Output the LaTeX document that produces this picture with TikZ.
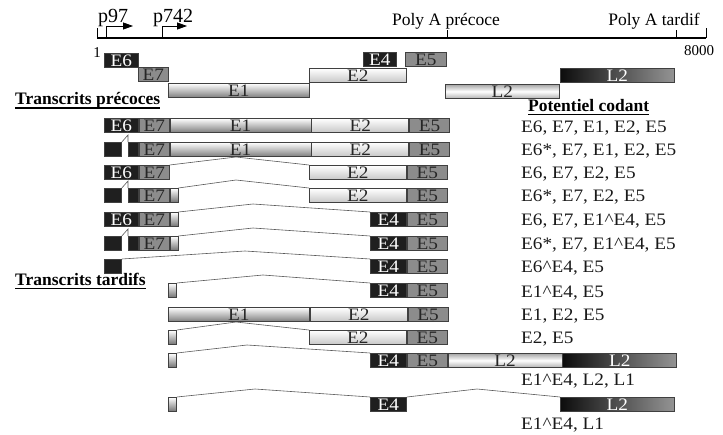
\documentclass[tikz,border=0pt]{standalone}
\usepackage{graphicx}
\usepackage{fontspec}
\setmainfont{Liberation Serif}
\usetikzlibrary{arrows.meta}
% slightly widened setting used for the exon names and the coding lists
\newcommand\widetxt[1]{\scalebox{1.1}[1]{#1}}
\begin{document}
\begin{tikzpicture}[x=1pt,y=-1pt,
  exon/.style={draw=black!75, line width=0.8pt, inner sep=0pt, minimum height=14pt,
    anchor=north west, font=\fontsize{17.5}{17.5}\selectfont},
  w/.style={minimum width=#1pt},
  dark/.style={fill=black!88, text=white},
  mid/.style={fill=black!45, text=black!85},
  pale/.style={top color=white, bottom color=black!50, text=black!85},
  light/.style={top color=white, bottom color=black!22, text=black!85},
  stub/.style={top color=white, bottom color=black!55, w=8},
  lpale/.style={top color=black!35, bottom color=black!30, middle color=white, text=black!85},
  ldark/.style={left color=black!95, right color=black!42, text=white},
  splice/.style={draw=black!65, line width=0.6pt},
  lbl/.style={anchor=base west, inner sep=0pt, font=\fontsize{17.5}{17.5}\selectfont, text=black!90},
  head/.style={anchor=base west, inner sep=0pt, font=\fontsize{17.5}{17.5}\selectfont\bfseries},
  toplbl/.style={inner sep=0pt, font=\fontsize{17.5}{17.5}\selectfont},
  promlbl/.style={inner sep=0pt, anchor=base west, font=\fontsize{20}{20}\selectfont},
  uline/.style={line width=1.6pt},
  prom/.style={line width=0.8pt, -{Triangle[length=10pt,width=7pt]}},
]
\useasboundingbox (0,0) rectangle (723,434);

% genome axis with ticks
\coordinate (g0) at (97,38);
\coordinate (g1) at (706,38);
\coordinate (pe) at (447,38);
\coordinate (pt) at (676,38);
\draw[line width=2.6pt] (g0) -- (g1);
\draw[line width=0.8pt] (g0) -- ++(0,-10);
\draw[line width=0.8pt] (g1) -- ++(0,-10);
\draw[line width=0.8pt] (pe) -- ++(0,-8);
\draw[line width=0.8pt] (pt) -- ++(0,-8);
\node[toplbl, anchor=base, font=\fontsize{15}{15}\selectfont] (n1) at (97,57) {1};
\node[toplbl, anchor=base, font=\fontsize{15}{15}\selectfont] (n8000) at (699,55) {8000};
\node[toplbl, anchor=base] (lpe) at (446,25) {Poly A précoce};
\node[toplbl, anchor=base] (lpt) at (654,25) {Poly A tardif};

% promoters
\coordinate (p97) at (106,38);
\coordinate (p742) at (162,38);
\draw[prom] (p97) -- ++(0,-12) -- ++(27,0);
\draw[prom] (p742) -- ++(0,-12) -- ++(25,0);
\node[promlbl] (lp97) at (98,22) {p97};
\node[promlbl] (lp742) at (153,22) {p742};

% open reading frames on the genome
\node[exon,dark,w=34] (t6) at (104,53) {\widetxt{E6}};
\node[exon,mid,w=30] (t7) at (138,67) {\widetxt{E7}};
\node[exon,pale,w=141] (t1) at (168,83) {\widetxt{E1}};
\node[exon,light,w=97] (t2) at (309,68) {\widetxt{E2}};
\node[exon,dark,w=33] (t4) at (363,52) {\widetxt{E4}};
\node[exon,mid,w=41] (t5) at (405,52) {\widetxt{E5}};
\node[exon,lpale,w=114] (tl2a) at (445,84) {\widetxt{L2}};
\node[exon,ldark,w=114] (tl2b) at (560,68) {\widetxt{L2}};

% headings
\node[head] (hpre) at (15,104) {Transcrits précoces};
\draw[uline] ([yshift=-4pt]hpre.base west) -- ([yshift=-4pt]hpre.base east);
\node[head] (htar) at (15,285) {Transcrits tardifs};
\draw[uline] ([yshift=-3.5pt]htar.base west) -- ([yshift=-3.5pt]htar.base east);
\node[head] (hpot) at (528,111) {Potentiel codant};
\draw[uline] ([yshift=-3.5pt]hpot.base west) -- ([yshift=-3.5pt]hpot.base east);

% transcript 1
\node[exon,dark,w=34] (a6) at (104,118) {\widetxt{E6}};
\node[exon,mid,w=30] (a7) at (a6.north east) {\widetxt{E7}};
\node[exon,pale,w=141] (a1) at (a7.north east) {\widetxt{E1}};
\node[exon,light,w=97] (a2) at (a1.north east) {\widetxt{E2}};
\node[exon,mid,w=40] (a5) at (a2.north east) {\widetxt{E5}};
\node[lbl] (la) at (521,132) {\widetxt{E6, E7, E1, E2, E5}};

% transcript 2
\node[exon,dark,w=17] (b6a) at (104,142) {};
\node[exon,dark,w=10] (b6b) at (128,142) {};
\node[exon,mid,w=30] (b7) at (b6b.north east) {\widetxt{E7}};
\node[exon,pale,w=141] (b1) at (b7.north east) {\widetxt{E1}};
\node[exon,light,w=97] (b2) at (b1.north east) {\widetxt{E2}};
\node[exon,mid,w=40] (b5) at (b2.north east) {\widetxt{E5}};
\draw[splice] (b6a.north east) -- ([yshift=7pt]b6b.north west) -- (b6b.north west);
\node[lbl] (lb) at (521,155) {\widetxt{E6*, E7, E1, E2, E5}};

% transcript 3
\node[exon,dark,w=34] (c6) at (104,165) {\widetxt{E6}};
\node[exon,mid,w=30] (c7) at (c6.north east) {\widetxt{E7}};
\node[exon,light,w=97] (c2) at (309,165) {\widetxt{E2}};
\node[exon,mid,w=40] (c5) at (c2.north east) {\widetxt{E5}};
\draw[splice] (c7.north east) -- (236,157) -- (c2.north west);
\node[lbl] (lc) at (521,178) {\widetxt{E6, E7, E2, E5}};

% transcript 4
\node[exon,dark,w=17] (d6a) at (104,188) {};
\node[exon,dark,w=10] (d6b) at (128,188) {};
\node[exon,mid,w=30] (d7) at (d6b.north east) {\widetxt{E7}};
\node[exon,stub] (d1) at (d7.north east) {};
\node[exon,light,w=97] (d2) at (309,188) {\widetxt{E2}};
\node[exon,mid,w=40] (d5) at (d2.north east) {\widetxt{E5}};
\draw[splice] (d6a.north east) -- ([yshift=7pt]d6b.north west) -- (d6b.north west);
\draw[splice] (d1.north east) -- (236,180) -- (d2.north west);
\node[lbl] (ld) at (521,201) {\widetxt{E6*, E7, E2, E5}};

% transcript 5
\node[exon,dark,w=34] (e6) at (104,212) {\widetxt{E6}};
\node[exon,mid,w=30] (e7) at (e6.north east) {\widetxt{E7}};
\node[exon,stub] (e1) at (e7.north east) {};
\node[exon,dark,w=36] (e4) at (370,212) {\widetxt{E4}};
\node[exon,mid,w=40] (e5) at (e4.north east) {\widetxt{E5}};
\draw[splice] (e1.north east) -- (253,204) -- (e4.north west);
\node[lbl] (le) at (521,225) {\widetxt{E6, E7, E1\textasciicircum E4, E5}};

% transcript 6
\node[exon,dark,w=17] (f6a) at (104,236) {};
\node[exon,dark,w=10] (f6b) at (128,236) {};
\node[exon,mid,w=30] (f7) at (f6b.north east) {\widetxt{E7}};
\node[exon,stub] (f1) at (f7.north east) {};
\node[exon,dark,w=36] (f4) at (370,236) {\widetxt{E4}};
\node[exon,mid,w=40] (f5) at (f4.north east) {\widetxt{E5}};
\draw[splice] (f6a.north east) -- ([yshift=7pt]f6b.north west) -- (f6b.north west);
\draw[splice] (f1.north east) -- (253,228) -- (f4.north west);
\node[lbl] (lf) at (521,249) {\widetxt{E6*, E7, E1\textasciicircum E4, E5}};

% transcript 7
\node[exon,dark,w=17] (g6) at (104,259) {};
\node[exon,dark,w=36] (g4) at (370,259) {\widetxt{E4}};
\node[exon,mid,w=40] (g5) at (g4.north east) {\widetxt{E5}};
\draw[splice] (g6.north east) -- (245,251) -- (g4.north west);
\node[lbl] (lg) at (521,272) {\widetxt{E6\textasciicircum E4, E5}};

% transcript 8
\node[exon,stub] (h1) at (168,283) {};
\node[exon,dark,w=36] (h4) at (370,283) {\widetxt{E4}};
\node[exon,mid,w=40] (h5) at (h4.north east) {\widetxt{E5}};
\draw[splice] (h1.north east) -- (263,275) -- (h4.north west);
\node[lbl] (lh) at (521,297) {\widetxt{E1\textasciicircum E4, E5}};

% transcript 9
\node[exon,pale,w=141] (i1) at (168,307) {\widetxt{E1}};
\node[exon,light,w=97] (i2) at (i1.north east) {\widetxt{E2}};
\node[exon,mid,w=40] (i5) at (i2.north east) {\widetxt{E5}};
\node[lbl] (li) at (521,320) {\widetxt{E1, E2, E5}};

% transcript 10
\node[exon,stub] (j1) at (168,330) {};
\node[exon,light,w=97] (j2) at (309,330) {\widetxt{E2}};
\node[exon,mid,w=40] (j5) at (j2.north east) {\widetxt{E5}};
\draw[splice] (j1.north east) -- (236,322) -- (j2.north west);
\node[lbl] (lj) at (521,343) {\widetxt{E2, E5}};

% transcript 11
\node[exon,stub] (k1) at (168,353) {};
\node[exon,dark,w=36] (k4) at (370,353) {\widetxt{E4}};
\node[exon,mid,w=40] (k5) at (k4.north east) {\widetxt{E5}};
\node[exon,lpale,w=114] (kl2a) at (k5.north east) {\widetxt{L2}};
\node[exon,ldark,w=114] (kl2b) at (kl2a.north east) {\widetxt{L2}};
\draw[splice] (k1.north east) -- (247,345) -- (k4.north west);
\node[lbl] (lk) at (521,385) {\widetxt{E1\textasciicircum E4, L2, L1}};

% transcript 12
\node[exon,stub] (m1) at (168,397) {};
\node[exon,dark,w=36] (m4) at (370,397) {\widetxt{E4}};
\node[exon,ldark,w=114] (ml2) at (560,397) {\widetxt{L2}};
\draw[splice] (m1.north east) -- (255,389) -- (m4.north west);
\draw[splice] (m4.north east) -- (477,389) -- (ml2.north west);
\node[lbl] (lm) at (521,429) {\widetxt{E1\textasciicircum E4, L1}};
\end{tikzpicture}
\end{document}
